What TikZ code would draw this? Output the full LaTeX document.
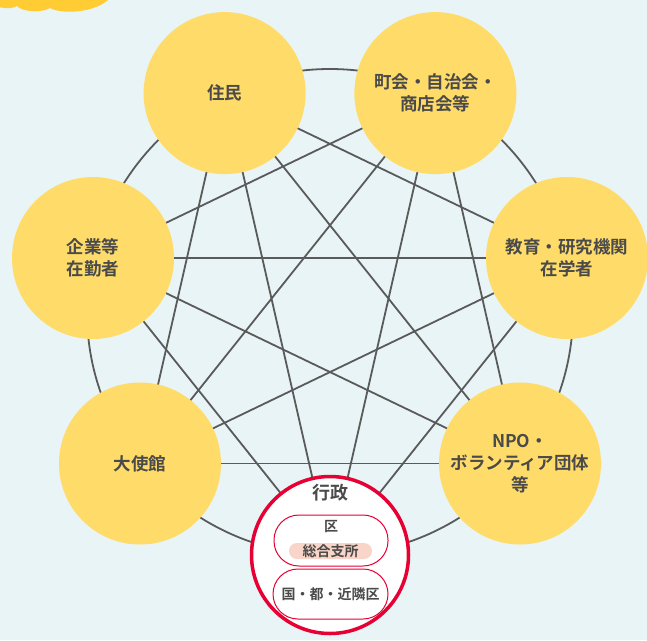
\documentclass[tikz,border=0pt]{standalone}
\usepackage{fontspec}
\setmainfont{Noto Sans CJK JP}[BoldFont={Noto Sans CJK JP Bold}]
\definecolor{bgc}{HTML}{E8F4F5}
\definecolor{ylw}{HTML}{FFDC69}
\definecolor{ylwdeep}{HTML}{FFCC33}
\definecolor{txt}{HTML}{4A4A4A}
\definecolor{lnc}{HTML}{5A5A5A}
\definecolor{redc}{HTML}{E60033}
\definecolor{pinkc}{HTML}{F8D5C8}
\pgfdeclarelayer{back}
\pgfdeclarelayer{paper}
\pgfsetlayers{paper,back,main}
\tikzset{
  member/.style={circle, fill=ylw, minimum size=162pt, inner sep=0pt, align=center,
    text=txt, font=\fontsize{17.5}{22}\selectfont\bfseries},
  link/.style={draw=lnc, line width=1.8pt},
  govt/.style={circle, fill=white, draw=redc, line width=3.5pt, minimum size=157pt, inner sep=0pt},
  pillbox/.style={draw=redc, line width=1pt, rounded corners=25pt, fill=white},
  subtxt/.style={text=txt, font=\fontsize{14}{16}\selectfont\bfseries, inner sep=0pt},
}
\begin{document}
\begin{tikzpicture}[x=1pt,y=-1pt]
\useasboundingbox (0,0) rectangle (647,640);
\begin{pgfonlayer}{paper}
\fill[bgc] (0,0) rectangle (647,640);
\fill[ylwdeep] (-2,-2) -- (-2,7) .. controls (8,9) and (14,8) .. (17,6)
  .. controls (22,12) and (42,13) .. (50,8)
  .. controls (60,14) and (95,14) .. (110,-2) -- cycle;
\end{pgfonlayer}
\coordinate (ctr) at (330,312);
\node[govt] (gy) at (330,555) {};
\node[member] (np) at (520,463.5) {NPO・\\ボランティア団体\\等};
\node[member] (ky) at (567,258) {教育・研究機関\\在学者};
\node[member] (ch) at (435.4,93.1) {町会・自治会・\\商店会等};
\node[member] (ju) at (224.6,93.1) {住民};
\node[member] (ki) at (93,258) {企業等\\在勤者};
\node[member] (ta) at (140,463.5) {大使館};
% government contents
\node[text=txt, font=\fontsize{18}{20}\selectfont\bfseries, inner sep=0pt] (gyt) at (330,493) {行政};
\node[pillbox, minimum width=114pt, minimum height=51pt] (ku) at (331,540.5) {};
\node[subtxt] (kut) at (331,527) {区};
\node[fill=pinkc, rounded corners=8pt, minimum width=83pt, minimum height=16pt, inner sep=0pt,
  text=txt, font=\fontsize{14}{16}\selectfont\bfseries] (shisho) at (330.5,551) {総合支所};
\node[pillbox, minimum width=115pt, minimum height=50pt] (kuni) at (330.5,594) {};
\node[subtxt] (kunit) at (330.5,594) {国・都・近隣区};
\begin{pgfonlayer}{back}
\draw[link] (ctr) circle[radius=243pt];
\foreach \a/\b in {gy/ky, gy/ch, gy/ju, gy/ki,
                   np/ch, np/ju, np/ki, np/ta,
                   ky/ju, ky/ki, ky/ta,
                   ch/ki, ch/ta,
                   ju/ta}
  \draw[link] (\a.center) -- (\b.center);
\end{pgfonlayer}
\end{tikzpicture}
\end{document}
